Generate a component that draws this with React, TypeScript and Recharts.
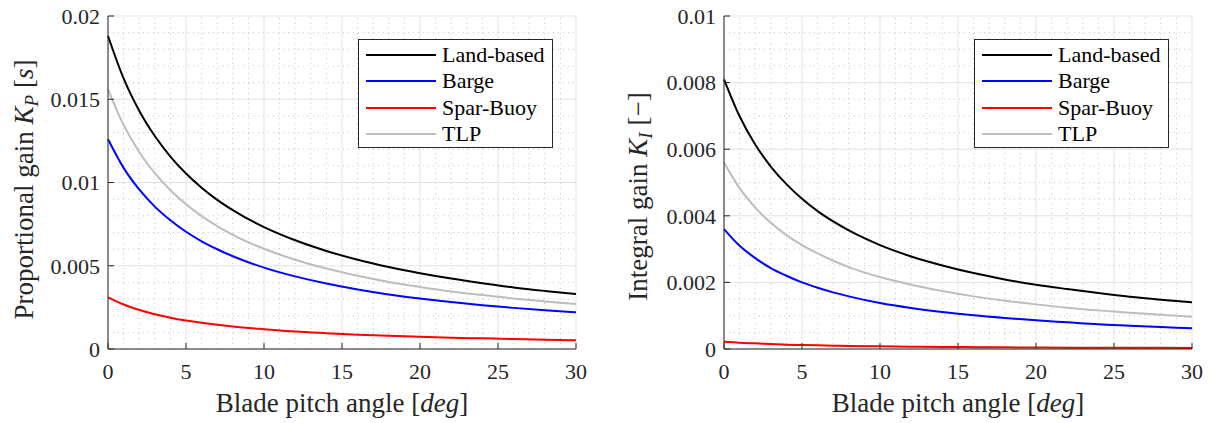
import { LineChart, Line, XAxis, YAxis, CartesianGrid, ReferenceLine, Legend, Label } from 'recharts';

// blade pitch angle [deg]
const pitch = [0, 1, 2, 3, 4, 5, 6, 7, 8, 10, 12, 14, 16, 18, 20, 22, 24, 26, 28, 30];

// proportional gain Kp [s]
const kpLand = [0.0188, 0.01625, 0.01431, 0.01279, 0.01156, 0.01054, 0.00969, 0.00896, 0.00834, 0.00732, 0.00653, 0.00589, 0.00536, 0.00492, 0.00455, 0.00423, 0.00395, 0.0037, 0.00349, 0.0033];
const kpBarge = [0.0126, 0.01088, 0.00958, 0.00855, 0.00773, 0.00704, 0.00647, 0.00599, 0.00557, 0.00489, 0.00436, 0.00393, 0.00358, 0.00328, 0.00303, 0.00282, 0.00263, 0.00247, 0.00233, 0.0022];
const kpSpar = [0.0031, 0.00267, 0.00234, 0.00209, 0.00188, 0.00171, 0.00157, 0.00145, 0.00135, 0.00119, 0.00105, 0.00095, 0.00086, 0.00079, 0.00073, 0.00068, 0.00064, 0.0006, 0.00056, 0.00053];
const kpTlp = [0.0156, 0.01346, 0.01183, 0.01056, 0.00953, 0.00869, 0.00798, 0.00738, 0.00686, 0.00602, 0.00536, 0.00483, 0.0044, 0.00403, 0.00373, 0.00346, 0.00324, 0.00303, 0.00286, 0.0027];

// integral gain Ki [-]
const kiLand = [0.0081, 0.00699, 0.00614, 0.00548, 0.00495, 0.00451, 0.00414, 0.00383, 0.00356, 0.00312, 0.00278, 0.00251, 0.00228, 0.00209, 0.00193, 0.0018, 0.00168, 0.00157, 0.00148, 0.0014];
const kiBarge = [0.0036, 0.0031, 0.00273, 0.00243, 0.0022, 0.002, 0.00184, 0.0017, 0.00158, 0.00138, 0.00123, 0.00111, 0.00101, 0.00093, 0.00086, 0.0008, 0.00074, 0.0007, 0.00066, 0.00062];
const kiSpar = [0.00022, 0.00019, 0.00017, 0.00015, 0.00013, 0.00012, 0.00011, 0.0001, 0.00009, 0.00008, 0.00007, 0.00006, 0.000055, 0.00005, 0.000045, 0.00004, 0.00004, 0.000035, 0.000035, 0.00003];
const kiTlp = [0.0056, 0.00483, 0.00425, 0.00379, 0.00342, 0.00312, 0.00287, 0.00265, 0.00246, 0.00216, 0.00193, 0.00174, 0.00158, 0.00145, 0.00134, 0.00124, 0.00116, 0.00109, 0.00103, 0.00097];

const seriesNames = ['Land-based', 'Barge', 'Spar-Buoy', 'TLP'];
const seriesColors = ['#000000', '#0000ff', '#ff0000', '#bdbdbd'];

const xTicks = [0, 5, 10, 15, 20, 25, 30];
const kpTicks = [0, 0.005, 0.01, 0.015, 0.02];
const kiTicks = [0, 0.002, 0.004, 0.006, 0.008, 0.01];

const xMinor = Array.from({ length: 31 }, (_, i) => i).filter(v => v % 5 !== 0);
const kpMinor = Array.from({ length: 21 }, (_, i) => i).filter(v => v % 5 !== 0).map(v => v / 1000);
const kiMinor = Array.from({ length: 21 }, (_, i) => i).filter(v => v % 4 !== 0).map(v => v / 2000);

const kpData = pitch.map((x, i) => ({ x, land: kpLand[i], barge: kpBarge[i], spar: kpSpar[i], tlp: kpTlp[i] }));
const kiData = pitch.map((x, i) => ({ x, land: kiLand[i], barge: kiBarge[i], spar: kiSpar[i], tlp: kiTlp[i] }));

const FONT = "'Liberation Serif', 'Times New Roman', serif";
const AXIS = '#262626';

const LegendBox = ({ payload }: any) => {
    // keep the plotting order, not alphabetical
    const items = [...(payload || [])].sort((a: any, b: any) => seriesNames.indexOf(a.value) - seriesNames.indexOf(b.value));
    return (
        <div style={{ border: `1px solid ${AXIS}`, background: '#fff', width: 195, height: 109, boxSizing: 'border-box', paddingTop: 2, fontFamily: FONT, fontSize: 22, color: '#000' }}>
            {items.map((p: any) => (
                <div key={p.value} style={{ display: 'flex', alignItems: 'center', height: 26.3 }}>
                    <div style={{ marginLeft: 7, width: 70, height: 2, background: p.color }} />
                    <span style={{ marginLeft: 6, lineHeight: '26px' }}>{p.value}</span>
                </div>
            ))}
        </div>
    );
};

const XLabel = ({ viewBox }: any) => (
    <text x={viewBox.x + viewBox.width / 2} y={viewBox.y + 63} textAnchor="middle" style={{ fontFamily: FONT }} fontSize={27} fill={AXIS}>
        Blade pitch angle [<tspan fontStyle="italic">deg</tspan>]
    </text>
);

const makeYLabel = (dx: number, dy: number, kind: 'P' | 'I') => ({ viewBox }: any) => {
    const cx = viewBox.x + dx;
    const cy = viewBox.y + viewBox.height / 2 + dy;
    return (
        <text x={cx} y={cy} transform={`rotate(-90 ${cx} ${cy})`} textAnchor="middle" style={{ fontFamily: FONT }} fontSize={27} fill={AXIS}>
            {kind === 'P' ? 'Proportional gain ' : 'Integral gain '}
            <tspan fontStyle="italic">K</tspan>
            <tspan fontStyle="italic" fontSize={19} dy={5}>{kind}</tspan>
            <tspan dy={-5}> [</tspan>
            {kind === 'P' ? <tspan fontStyle="italic">s</tspan> : <tspan>−</tspan>}
            <tspan>]</tspan>
        </text>
    );
};

const GainPlot = ({ data, yTicks, yMinor, yMax, yAxisWidth, rightMargin, width, legendLeft, yLabel }: any) => (
    <LineChart width={width} height={423} data={data} margin={{ top: 16, right: rightMargin, left: 0, bottom: 0 }} style={{ fontFamily: FONT }}>
        <CartesianGrid stroke="#e3e3e3" strokeWidth={1} />
        {xMinor.map(v => (
            <ReferenceLine key={'vx' + v} x={v} stroke="#c4c4c4" strokeDasharray="1 4" />
        ))}
        {yMinor.map((v: number) => (
            <ReferenceLine key={'hy' + v} y={v} stroke="#c4c4c4" strokeDasharray="1 4" />
        ))}
        <XAxis
            type="number"
            dataKey="x"
            domain={[0, 30]}
            ticks={xTicks}
            height={74}
            tickSize={-6}
            tickMargin={20}
            stroke={AXIS}
            tick={{ fill: AXIS, fontSize: 22, style: { fontFamily: FONT } }}
        >
            <Label content={<XLabel />} />
        </XAxis>
        <YAxis
            type="number"
            domain={[0, yMax]}
            ticks={yTicks}
            width={yAxisWidth}
            tickSize={-6}
            tickMargin={14}
            stroke={AXIS}
            tick={{ fill: AXIS, fontSize: 22, style: { fontFamily: FONT } }}
            tickFormatter={(v: number) => String(v)}
        >
            <Label content={yLabel} />
        </YAxis>
        <Legend
            layout="vertical"
            align="center"
            verticalAlign="middle"
            content={<LegendBox />}
            wrapperStyle={{ position: 'absolute', left: legendLeft, top: 39, width: 195, height: 109 }}
        />
        {['land', 'barge', 'spar', 'tlp'].map((k, i) => (
            <Line
                key={k}
                type="monotone"
                dataKey={k}
                name={seriesNames[i]}
                stroke={seriesColors[i]}
                strokeWidth={2}
                dot={false}
                isAnimationActive={false}
            />
        ))}
    </LineChart>
);

export default function App() {
    return (
        <div style={{ position: 'absolute', left: 0, top: 0, width: 1211, height: 423, background: '#fff', fontFamily: FONT }}>
            <div style={{ position: 'absolute', left: 0, top: 0 }}>
                <GainPlot
                    data={kpData}
                    yTicks={kpTicks}
                    yMinor={kpMinor}
                    yMax={0.02}
                    yAxisWidth={108}
                    rightMargin={24}
                    width={600}
                    legendLeft={358}
                    yLabel={makeYLabel(33, 7, 'P')}
                />
            </div>
            <div style={{ position: 'absolute', left: 600, top: 0 }}>
                <GainPlot
                    data={kiData}
                    yTicks={kiTicks}
                    yMinor={kiMinor}
                    yMax={0.01}
                    yAxisWidth={124}
                    rightMargin={19}
                    width={611}
                    legendLeft={374}
                    yLabel={makeYLabel(47, 14, 'I')}
                />
            </div>
        </div>
    );
}
